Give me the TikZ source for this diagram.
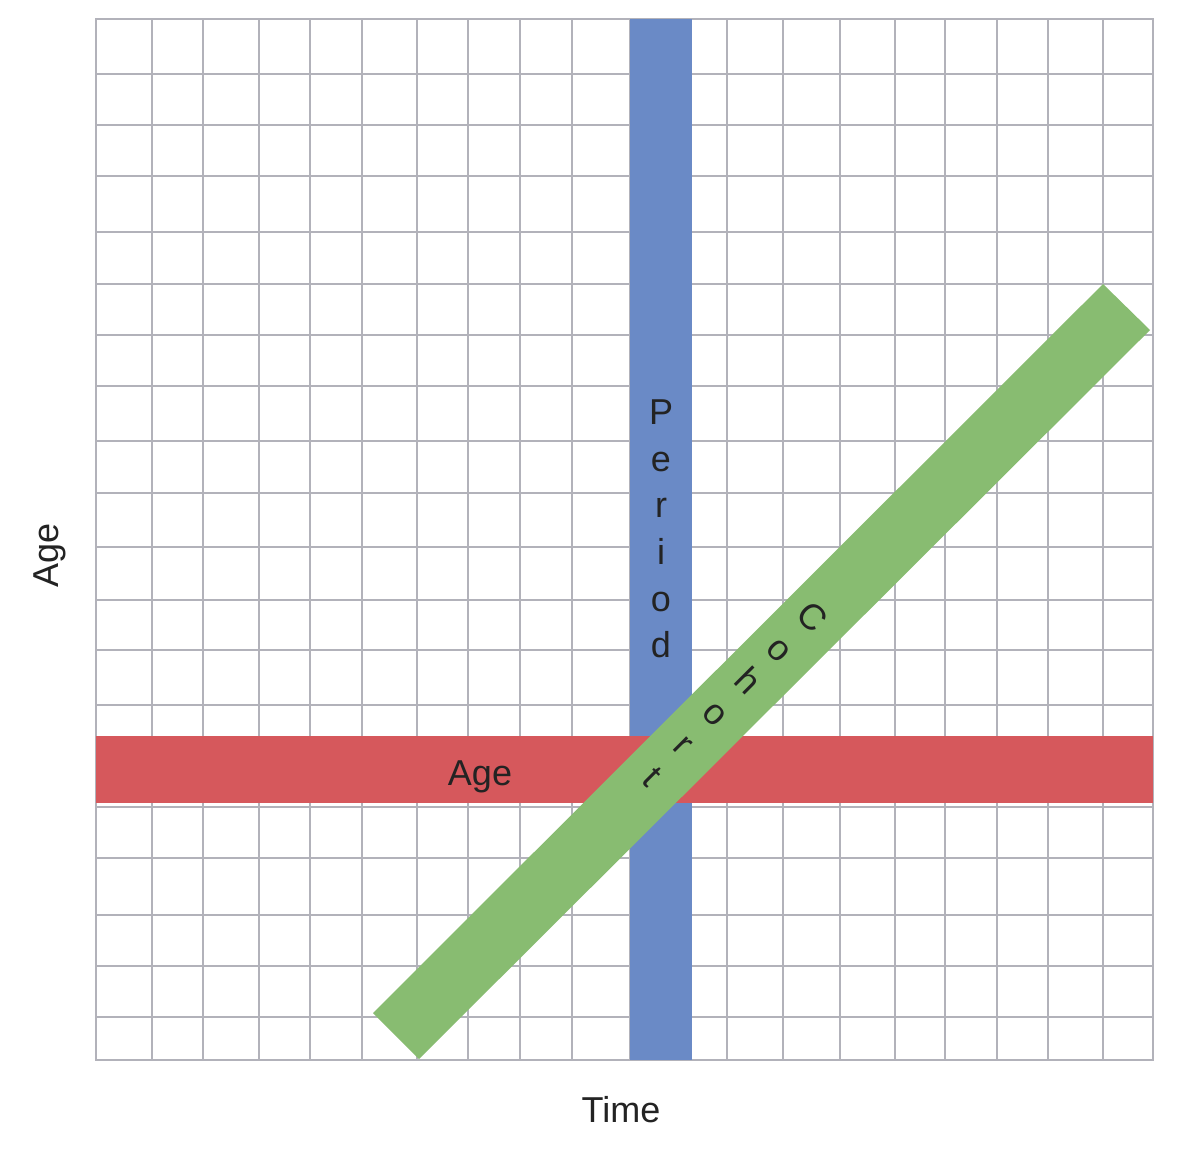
\documentclass[tikz,border=0pt]{standalone}
\usepackage{fontspec}
\setmainfont{Liberation Sans}
\definecolor{gridgray}{RGB}{178,178,186}
\definecolor{bandblue}{RGB}{106,138,198}
\definecolor{bandred}{RGB}{214,88,92}
\definecolor{bandgreen}{RGB}{136,188,113}
\definecolor{txt}{RGB}{35,35,35}
\begin{document}
\begin{tikzpicture}[x=0.5pt,y=-0.5pt,
  gridline/.style={draw=gridgray,line width=1.3pt,line cap=rect},
  lbl/.style={text=txt,font=\fontsize{18pt}{22pt}\selectfont,inner sep=0pt},
  stackp/.style={lbl,align=center,font=\fontsize{18pt}{23.3pt}\selectfont},
  stackc/.style={lbl,align=center,font=\fontsize{18pt}{22.5pt}\selectfont}]
\useasboundingbox[fill=white] (0,0) rectangle (1177,1148);
% grid
\foreach \x in {96,152,203,259,310,362,417,468,520,572,630,680,727,783,840,895,945,997,1048,1103,1153}
  \draw[gridline] (\x,19) -- (\x,1060);
\foreach \y in {19,74,125,176,232,284,335,386,441,493,547,600,650,705,756,807,858,915,966,1017,1060}
  \draw[gridline] (96,\y) -- (1153,\y);
% bands
\fill[bandblue] (630,19) rectangle (692,1060);
\fill[bandred] (96,736) rectangle (1153,803);
\fill[bandgreen] (373,1013) -- (1103,284) -- (1150,330) -- (419,1059) -- cycle;
% labels
\node[stackp] (period) at (661,529) {P\\e\\r\\i\\o\\d};
\node[stackc,rotate=-45] (cohort) at (732.5,696.5) {C\\o\\h\\o\\r\\t};
\node[lbl,anchor=base] (agein) at (480,785) {Age};
\node[lbl,anchor=base,rotate=90] (ageaxis) at (58,555) {Age};
\node[lbl,anchor=base] (time) at (621,1122) {Time};
\end{tikzpicture}
\end{document}
